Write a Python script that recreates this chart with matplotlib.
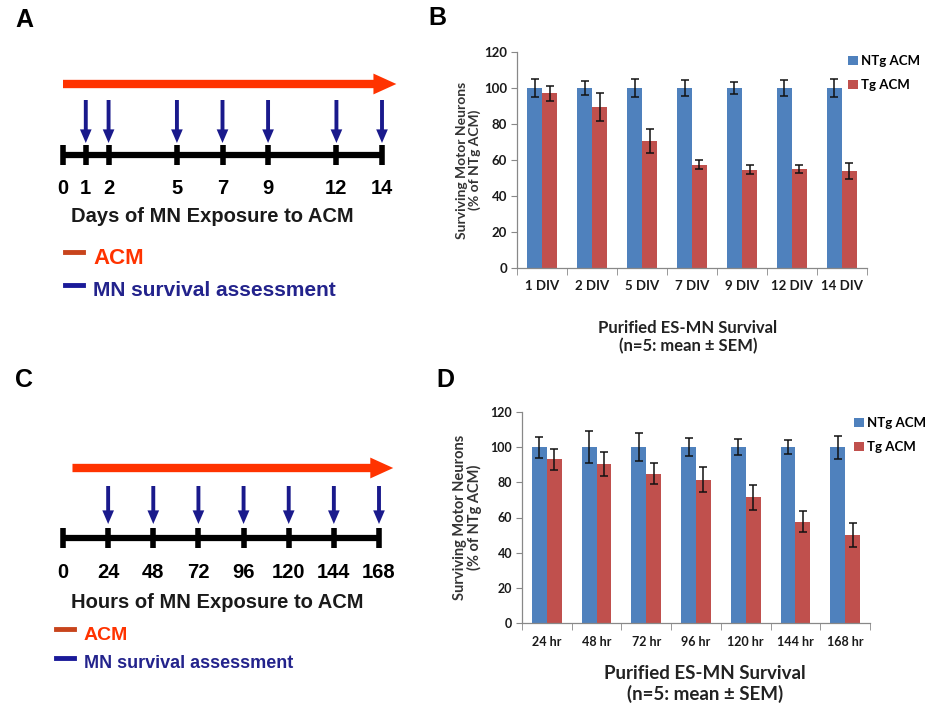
import numpy as np
import matplotlib
matplotlib.use("Agg")
import matplotlib.pyplot as plt

W, H = 934, 703

# timeline panels (A, C)
days = [0, 1, 2, 5, 7, 9, 12, 14]
assess_days = [1, 2, 5, 7, 9, 12, 14]
hours = [0, 24, 48, 72, 96, 120, 144, 168]
assess_hours = [24, 48, 72, 96, 120, 144, 168]

# bar panel B (days in vitro)
div_labels = ["1 DIV", "2 DIV", "5 DIV", "7 DIV", "9 DIV", "12 DIV", "14 DIV"]
ntg_div = [100, 100, 100, 100, 100, 100, 100]
ntg_div_err = [5, 4, 5, 4.5, 3.5, 4.5, 5]
tg_div = [97, 89.5, 70.5, 57.5, 54.5, 55, 54]
tg_div_err = [4, 8, 6.5, 2.5, 2.5, 2, 4.5]

# bar panel D (hours)
hr_labels = ["24 hr", "48 hr", "72 hr", "96 hr", "120 hr", "144 hr", "168 hr"]
ntg_hr = [100, 100, 100, 100, 100, 100, 100]
ntg_hr_err = [6, 9, 8, 5, 4.5, 4, 6.5]
tg_hr = [93, 90.5, 85, 81.5, 71.5, 57.5, 50]
tg_hr_err = [6, 7, 6, 7, 7, 6, 7]

BLUE = "#4F81BD"
RED = "#C0504D"
ARROW_RED = "#FF3300"
NAVY = "#1A1A8C"
SANS = "Liberation Sans"
BAR_FONT = "Lato"


def fx(x):
    return x / W


def fy(y):
    return 1 - y / H


fig = plt.figure(figsize=(W / 100, H / 100), dpi=100)


def draw_timeline(x0, x1, times, assess, rows, title, title_x, legend_x, legend_size):
    tmax = times[-1]
    ax = fig.add_axes([fx(x0), 0, (x1 - x0) / W, 1])
    ax.set_xlim(0, tmax)
    ax.set_ylim(H, 0)
    ax.axis("off")

    # red ACM arrow
    ax.annotate("", xy=(tmax * 1.045, rows["red"]), xytext=(rows["red_start"] * tmax, rows["red"]),
                annotation_clip=False,
                arrowprops=dict(arrowstyle="simple,head_width=0.5,head_length=0.55,tail_width=0.2",
                                mutation_scale=30, color=ARROW_RED, lw=0, shrinkA=0, shrinkB=0))
    # blue assessment arrows
    for t in assess:
        ax.annotate("", xy=(t, rows["blue_end"]), xytext=(t, rows["blue_start"]),
                    annotation_clip=False,
                    arrowprops=dict(arrowstyle="simple,head_width=0.6,head_length=0.7,tail_width=0.2",
                                    mutation_scale=14, color=NAVY, lw=0, shrinkA=0, shrinkB=0))
    # black time axis
    ax.plot([0, tmax], [rows["line"], rows["line"]], color="black", lw=4.5, solid_capstyle="butt", clip_on=False)
    ax.vlines(times, rows["line"] - 10, rows["line"] + 10, color="black", lw=4, clip_on=False)
    for t in times:
        ax.text(t, rows["labels"], str(t), ha="center", va="center", fontsize=14.5,
                fontweight="bold", family=SANS, clip_on=False)

    fig.text(fx(title_x), fy(rows["title"]), title, ha="center", va="center", fontsize=14.5,
             fontweight="bold", family=SANS, color="#1a1a1a")

    # little legend
    fig.add_artist(plt.Line2D([fx(legend_x - 28), fx(legend_x - 10)], [fy(rows["leg1"] - 6)] * 2,
                              color="#C8441C", lw=3.5))
    fig.text(fx(legend_x), fy(rows["leg1"]), "ACM", ha="left", va="center", fontsize=legend_size + 1,
             fontweight="bold", family=SANS, color=ARROW_RED)
    fig.add_artist(plt.Line2D([fx(legend_x - 28), fx(legend_x - 10)], [fy(rows["leg2"] - 6)] * 2,
                              color="#1A1A99", lw=3.5))
    fig.text(fx(legend_x), fy(rows["leg2"]), "MN survival assessment", ha="left", va="center",
             fontsize=legend_size, fontweight="bold", family=SANS, color="#23238C")


draw_timeline(63, 382, days, assess_days,
              dict(red=84, red_start=0.0, blue_start=100, blue_end=143, line=155, labels=188,
                   title=217, leg1=258, leg2=291),
              "Days of MN Exposure to ACM", 212, 93, 15)
draw_timeline(63, 379, hours, assess_hours,
              dict(red=468, red_start=0.03, blue_start=486, blue_end=524, line=538, labels=573,
                   title=602, leg1=635, leg2=664),
              "Hours of MN Exposure to ACM", 217, 84, 13)


def draw_bars(rect, labels, ntg, ntg_err, tg, tg_err, tick_size, ylab_size, ylab_pad, xlab_pos, xlab_size, leg_pos):
    ax = fig.add_axes(rect)
    x = np.arange(len(labels))
    w = 0.3
    ekw = dict(elinewidth=1.1, capthick=1.1, ecolor="#111111")
    ax.bar(x - w / 2, ntg, w, yerr=ntg_err, capsize=3, color=BLUE, error_kw=ekw, label="NTg ACM")
    ax.bar(x + w / 2, tg, w, yerr=tg_err, capsize=3, color=RED, error_kw=ekw, label="Tg ACM")
    ax.set_xlim(-0.5, len(labels) - 0.5)
    ax.set_ylim(0, 120)
    ax.set_yticks(np.arange(0, 121, 20))
    ax.set_xticks(x)
    ax.set_xticklabels(labels)
    ax.set_xticks(np.arange(-0.5, len(labels), 1), minor=True)
    ax.tick_params(axis="x", which="major", length=0, pad=9)
    ax.tick_params(axis="x", which="minor", length=5, color="#888888", direction="out")
    ax.tick_params(axis="y", length=4, color="#888888", direction="out", pad=3)
    for lab in ax.get_xticklabels() + ax.get_yticklabels():
        lab.set_fontsize(tick_size)
        lab.set_fontweight("bold")
        lab.set_family(BAR_FONT)
        lab.set_color("#1a1a1a")
    for s in ["top", "right"]:
        ax.spines[s].set_visible(False)
    for s in ["left", "bottom"]:
        ax.spines[s].set_color("#888888")
        ax.spines[s].set_linewidth(0.9)
    ax.set_ylabel("Surviving Motor Neurons\n(% of NTg ACM)", fontsize=ylab_size, fontweight="bold",
                  family=BAR_FONT, color="#333333", labelpad=ylab_pad, linespacing=1.05)
    fig.text(fx(xlab_pos[0]), fy(xlab_pos[1]), "Purified ES-MN Survival\n(n=5: mean \u00b1 SEM)",
             ha="center", va="center", fontsize=xlab_size, fontweight="bold", family=BAR_FONT,
             color="#222222", linespacing=1.15)
    ax.legend(loc="upper left", bbox_to_anchor=(fx(leg_pos[0]), fy(leg_pos[1])),
              bbox_transform=fig.transFigure, frameon=False, handlelength=0.7, handleheight=0.7,
              handletextpad=0.3, labelspacing=0.9, borderaxespad=0,
              prop=dict(family=BAR_FONT, weight="bold", size=9.5))
    return ax


draw_bars([fx(517), fy(268), 350 / W, 216 / H], div_labels, ntg_div, ntg_div_err, tg_div, tg_div_err,
          9.5, 10, 2, (688, 337), 12, (843, 50))
draw_bars([fx(522), fy(623), 348 / W, 211 / H], hr_labels, ntg_hr, ntg_hr_err, tg_hr, tg_hr_err,
          9, 10.5, 6, (705, 684), 13.5, (849, 412))

for letter, (lx, ly) in {"A": (24, 20), "B": (437, 18), "C": (24, 380), "D": (445, 380)}.items():
    fig.text(fx(lx), fy(ly), letter, ha="center", va="center", fontsize=18, fontweight="bold", family=SANS)

fig.savefig("out.png", dpi=100)
